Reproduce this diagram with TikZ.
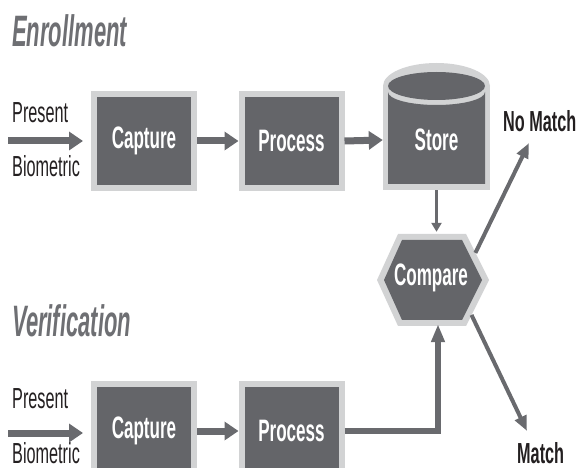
\documentclass[tikz,border=0pt]{standalone}
\usepackage{fontspec}
\setmainfont{Liberation Sans}[FakeStretch=0.56]
\newfontfamily\boxfont{Liberation Sans}[FakeStretch=0.55]
\newfontfamily\titlefont{Liberation Sans}[FakeStretch=0.5]
\usetikzlibrary{arrows.meta,calc}
\definecolor{boxdark}{RGB}{100,101,105}
\definecolor{boxlight}{RGB}{210,211,212}
\definecolor{linegray}{RGB}{105,106,110}
\definecolor{titlegray}{RGB}{110,111,115}
\definecolor{labelblack}{RGB}{35,31,32}
\begin{document}
\begin{tikzpicture}[x=1pt,y=1pt,
  box/.style={draw=boxlight, fill=boxdark, line width=6pt, minimum width=100pt,
    minimum height=94pt, inner sep=0pt, text=white,
    font=\boxfont\fontsize{31}{33}\selectfont\bfseries},
  shapelabel/.style={inner sep=0pt, text=white, font=\boxfont\fontsize{31}{33}\selectfont\bfseries},
  lbl/.style={inner sep=0pt, anchor=base west, text=labelblack, font=\fontsize{29}{31}\selectfont},
  lblbold/.style={lbl, font=\fontsize{29}{31}\selectfont\bfseries},
  ttl/.style={inner sep=0pt, anchor=base west, text=titlegray,
    font=\titlefont\fontsize{44}{46}\selectfont\bfseries\itshape},
  fat/.style={draw=linegray, line width=7pt, -{Triangle[length=14pt,width=18pt]}},
  feed/.style={draw=linegray, line width=6pt, -{Triangle[length=18pt,width=13pt]}},
  slim/.style={draw=linegray, line width=4pt, -{Triangle[length=15pt,width=12pt]}},
  drop/.style={draw=linegray, line width=3pt, -{Triangle[length=9pt,width=10pt]}},
]
\useasboundingbox (0,0) rectangle (582,-468);
\clip (0,0) rectangle (582,-468);

% titles
\node[ttl] (enr) at (12,-47) {Enrollment};
\node[ttl] (ver) at (12,-337) {Verification};

% enrollment row
\node[box] (cap1) at (144,-141) {Capture};
\node[box] (proc1) at (291.5,-141) {Process};

% store cylinder
\fill[boxlight] (383,-86) -- (383,-190) -- (490,-190) -- (490,-86) -- cycle;
\fill[boxlight] (436.5,-86) ellipse[x radius=53.5, y radius=23];
\fill[boxdark] (485,-92) -- (485,-184) -- (388,-184) -- (388,-92)
  arc[start angle=180, end angle=360, x radius=48.5, y radius=13] -- cycle;
\fill[boxdark] (436.5,-86) ellipse[x radius=48.5, y radius=14];
\node[shapelabel, minimum width=107pt, minimum height=100pt] (store) at (436.5,-140) {Store};

% compare hexagon
\coordinate (h1) at (377,-280);
\coordinate (h2) at (398,-234);
\coordinate (h3) at (466,-234);
\coordinate (h4) at (489,-280);
\coordinate (h5) at (466,-326);
\coordinate (h6) at (398,-326);
\fill[boxlight] (h1) -- (h2) -- (h3) -- (h4) -- (h5) -- (h6) -- cycle;
\fill[boxdark] (384,-280) -- (402,-240) -- (462,-240) -- (482,-280) -- (462,-320) -- (402,-320) -- cycle;
\node[shapelabel, minimum width=112pt, minimum height=92pt] (compare) at (431,-278) {Compare};

% verification row
\node[box] (cap2) at (144,-431) {Capture};
\node[box] (proc2) at (291.5,-431) {Process};

% labels
\node[lbl] (pres1) at (12,-123) {Present};
\node[lbl] (bio1) at (12,-177) {Biometric};
\node[lbl] (pres2) at (12,-408) {Present};
\node[lbl] (bio2) at (12,-463) {Biometric};
\node[lblbold] (nomatch) at (503,-132) {No Match};
\node[lblbold] (match) at (517,-463) {Match};

% connectors
\coordinate (in1) at (8,-141);
\coordinate (in2) at (8,-433);
\draw[fat] (in1) -- ([xshift=-8pt]cap1.west);
\draw[fat] (cap1.east) -- (proc1.west);
\draw[fat] (proc1.east) -- (store.west);
\draw[fat] (in2) -- ([xshift=-8pt]cap2.west |- in2);
\draw[fat] (cap2.east) -- (proc2.west);
\draw[drop] (store.south) -- (store.south |- compare.north);
\draw[feed] (proc2.east) -| ([xshift=7pt]compare.south);
\coordinate (nmtip) at (529,-143);
\coordinate (mtip) at (527,-431);
\draw[slim] ($(h3)!0.41!(h4)$) -- (nmtip);
\draw[slim] ($(h4)!0.76!(h5)$) -- (mtip);
\end{tikzpicture}
\end{document}
